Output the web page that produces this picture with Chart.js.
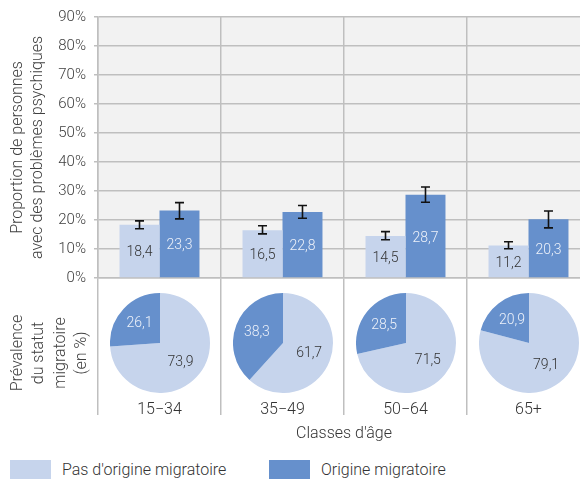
<!DOCTYPE html>
<html>
<head>
<meta charset="utf-8">
<script src="https://cdn.jsdelivr.net/npm/chart.js@4"></script>
<style>
  body { margin: 0; background: #fff; overflow: hidden; }
  #wrap { position: relative; width: 580px; height: 485px; overflow: hidden; font-family: Roboto, sans-serif; font-weight: 300; color: #333; }
  #bars { position: absolute; left: 0; top: 0; }
  .pie { position: absolute; }
  .key { position: absolute; top: 460px; width: 41px; height: 19px; }
  .keytxt { position: absolute; top: 460px; line-height: 19px; font-size: 16px; white-space: nowrap; }
</style>
</head>
<body>
<div id="wrap">
  <canvas id="bars" width="590" height="450"></canvas>
  <canvas class="pie" id="pie0" width="100" height="100"></canvas>
  <canvas class="pie" id="pie1" width="100" height="100"></canvas>
  <canvas class="pie" id="pie2" width="100" height="100"></canvas>
  <canvas class="pie" id="pie3" width="100" height="100"></canvas>
  <div class="key" style="left:10px;background:#c6d4ec"></div>
  <div class="keytxt" style="left:62px">Pas d'origine migratoire</div>
  <div class="key" style="left:269px;background:#6690cc"></div>
  <div class="keytxt" style="left:321px">Origine migratoire</div>
</div>
<script>
const ageClasses = ['15−34', '35−49', '50−64', '65+'];

// share with mental health problems (%)
const nonMigrant = [18.4, 16.5, 14.5, 11.2];
const migrant = [23.3, 22.8, 28.7, 20.3];

// confidence intervals
const nonMigrantLow = [17.0, 15.2, 13.2, 10.1];
const nonMigrantHigh = [19.7, 18.0, 16.0, 12.5];
const migrantLow = [20.4, 20.6, 26.1, 17.3];
const migrantHigh = [26.0, 25.0, 31.4, 23.1];

// prevalence of migration status per age class (%)
const shareNonMigrant = [73.9, 61.7, 71.5, 79.1];
const shareMigrant = [26.1, 38.3, 28.5, 20.9];

const yTicks = [0, 10, 20, 30, 40, 50, 60, 70, 80, 90];

const LIGHT = '#c6d4ec';
const DARK = '#6690cc';
const GRID = '#bfbfbf';
const FONT = 'Roboto';

Chart.defaults.font.family = FONT;
Chart.defaults.font.weight = 300;
Chart.defaults.font.size = 15;
Chart.defaults.color = '#404040';

const fmt = v => v.toFixed(1).replace('.', ',');

const plotBg = {
  id: 'plotBg',
  beforeDraw(chart) {
    const a = chart.chartArea;
    const ctx = chart.ctx;
    ctx.save();
    ctx.fillStyle = '#f2f2f2';
    ctx.fillRect(a.left, a.top, a.right - a.left, a.bottom - a.top);
    ctx.restore();
  }
};

const barValues = {
  id: 'barValues',
  afterDatasetsDraw(chart) {
    const ctx = chart.ctx;
    const y = chart.scales.y;
    const bounds = [[nonMigrantLow, nonMigrantHigh], [migrantLow, migrantHigh]];
    const textColors = ['#333333', '#eef2fa'];
    ctx.save();
    chart.data.datasets.forEach((ds, di) => {
      chart.getDatasetMeta(di).data.forEach((bar, i) => {
        // value label in the middle of the bar
        ctx.fillStyle = textColors[di];
        ctx.font = '300 14px ' + FONT;
        ctx.textAlign = 'center';
        ctx.textBaseline = 'middle';
        ctx.fillText(fmt(ds.data[i]), bar.x, (bar.y + bar.base) / 2 + 2);
        // error bar
        const lo = y.getPixelForValue(bounds[di][0][i]);
        const hi = y.getPixelForValue(bounds[di][1][i]);
        ctx.strokeStyle = '#111';
        ctx.lineWidth = 1.6;
        ctx.beginPath();
        ctx.moveTo(bar.x, lo); ctx.lineTo(bar.x, hi);
        ctx.moveTo(bar.x - 4.5, lo); ctx.lineTo(bar.x + 4.5, lo);
        ctx.moveTo(bar.x - 4.5, hi); ctx.lineTo(bar.x + 4.5, hi);
        ctx.stroke();
      });
    });
    ctx.restore();
  }
};

const pieTitle = {
  id: 'pieTitle',
  afterDraw(chart) {
    const ctx = chart.ctx;
    const lines = ['Prévalence', 'du statut', 'migratoire', '(en %)'];
    ctx.save();
    ctx.translate(18, 353);
    ctx.rotate(-Math.PI / 2);
    ctx.fillStyle = '#404040';
    ctx.font = '300 16px ' + FONT;
    ctx.textAlign = 'center';
    ctx.textBaseline = 'middle';
    lines.forEach((t, i) => ctx.fillText(t, 0, i * 21.3));
    ctx.restore();
  }
};

const barChart = new Chart(document.getElementById('bars'), {
  type: 'bar',
  data: {
    labels: ageClasses,
    datasets: [
      { label: "Pas d'origine migratoire", data: nonMigrant, backgroundColor: LIGHT },
      { label: 'Origine migratoire', data: migrant, backgroundColor: DARK }
    ]
  },
  options: {
    responsive: false,
    animation: false,
    devicePixelRatio: 1,
    layout: { padding: { top: 13, left: 0, right: 0, bottom: 0 } },
    datasets: { bar: { categoryPercentage: 0.65, barPercentage: 1.0 } },
    plugins: { legend: { display: false }, tooltip: { enabled: false } },
    scales: {
      x: {
        grid: { color: GRID, lineWidth: 1.5, tickLength: 137, offset: true },
        border: { color: GRID, width: 1.5 },
        ticks: { padding: -15, color: '#333', font: { size: 16 } },
        title: { display: true, text: "Classes d'âge", color: '#333', font: { size: 16 }, padding: { top: 0, bottom: 6 } },
        afterFit(scale) { scale.height = 172; }
      },
      y: {
        min: 0,
        max: 90,
        afterBuildTicks(scale) { scale.ticks = yTicks.map(v => ({ value: v })); },
        ticks: { padding: 8, callback: v => v + '%' },
        grid: { color: GRID, lineWidth: 1.5, tickLength: 4 },
        border: { color: GRID, width: 1.5 },
        title: {
          display: true,
          text: ['Proportion de personnes', 'avec des problèmes psychiques'],
          font: { size: 16, lineHeight: 1.25 },
          padding: { top: 8, bottom: 0 }
        },
        afterFit(scale) { scale.width = 98; }
      }
    }
  },
  plugins: [plotBg, barValues, pieTitle]
});

const sliceValues = {
  id: 'sliceValues',
  afterDatasetsDraw(chart) {
    const ctx = chart.ctx;
    const colors = ['#333333', '#eef2fa'];
    const ds = chart.data.datasets[0];
    ctx.save();
    ctx.font = '300 14px ' + FONT;
    ctx.textAlign = 'center';
    ctx.textBaseline = 'middle';
    chart.getDatasetMeta(0).data.forEach((arc, i) => {
      const mid = (arc.startAngle + arc.endAngle) / 2;
      const r = arc.outerRadius * 0.56;
      ctx.fillStyle = colors[i];
      ctx.fillText(fmt(ds.data[i]), arc.x + Math.cos(mid) * r, arc.y + Math.sin(mid) * r);
    });
    ctx.restore();
  }
};

// one pie per age class, centred under its bar group
const xScale = barChart.scales.x;
ageClasses.forEach((label, i) => {
  const cv = document.getElementById('pie' + i);
  cv.style.left = (xScale.getPixelForValue(i) - 50) + 'px';
  cv.style.top = '293px';
  new Chart(cv, {
    type: 'pie',
    data: {
      labels: ["Pas d'origine migratoire", 'Origine migratoire'],
      datasets: [{
        data: [shareNonMigrant[i], shareMigrant[i]],
        backgroundColor: [LIGHT, DARK],
        borderWidth: 0
      }]
    },
    options: {
      responsive: false,
      animation: false,
      devicePixelRatio: 1,
      plugins: { legend: { display: false }, tooltip: { enabled: false } }
    },
    plugins: [sliceValues]
  });
});
</script>
</body>
</html>
